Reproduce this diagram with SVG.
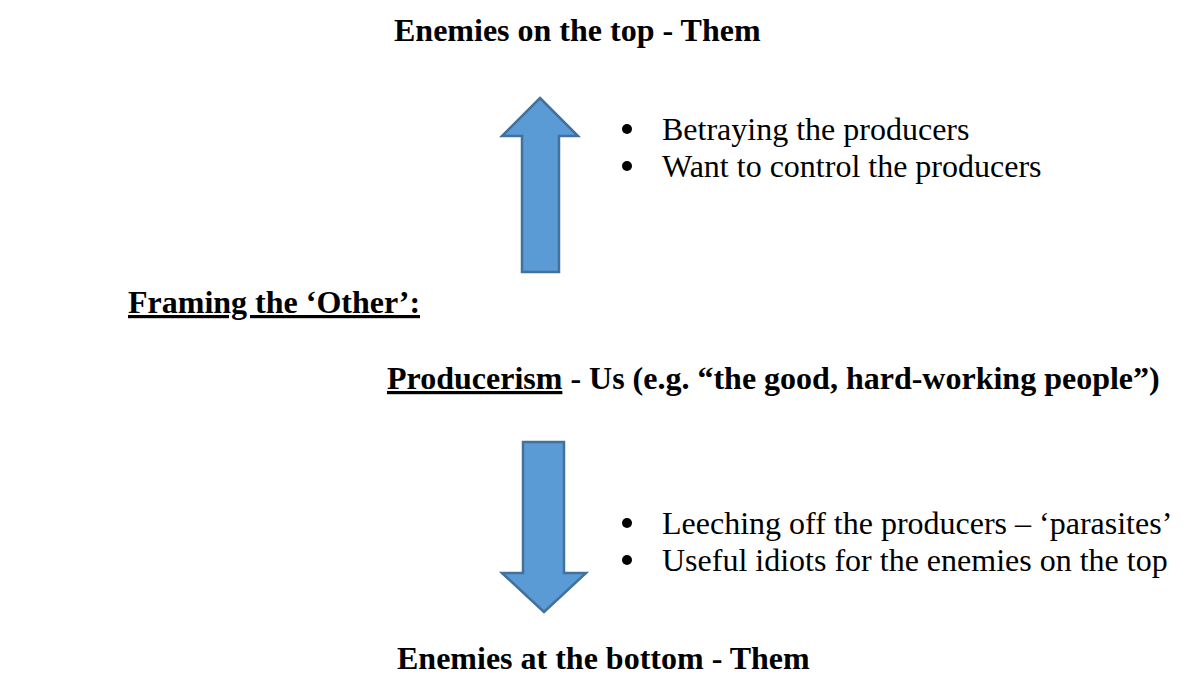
<svg xmlns="http://www.w3.org/2000/svg" width="1189" height="680" viewBox="0 0 1189 680">
<style>
.h{font-family:"Liberation Serif","Times New Roman",serif;font-weight:bold;font-size:32px;fill:#000}
.b{font-family:"Liberation Serif","Times New Roman",serif;font-size:32px;fill:#000}
.arrow{fill:#5B9BD5;stroke:#41719C;stroke-width:2.5;stroke-linejoin:miter}
</style>
<rect width="1189" height="680" fill="#fff"/>
<g id="top-enemies"><text class="h" x="394" y="41">Enemies on the top - Them</text></g>
<g id="top-bullets">
<circle cx="627" cy="129" r="5"/><text class="b" x="662" y="140">Betraying the producers</text>
<circle cx="627" cy="166" r="5"/><text class="b" x="662" y="177">Want to control the producers</text>
</g>
<g id="framing"><text class="h" x="128" y="313" text-decoration="underline">Framing the ‘Other’:</text></g>
<g id="producerism"><text class="h" x="387" y="389"><tspan text-decoration="underline">Producerism</tspan> - Us (e.g. “the good, hard-working people”)</text></g>
<g id="bottom-bullets">
<circle cx="627" cy="523" r="5"/><text class="b" x="662" y="534">Leeching off the producers – ‘parasites’</text>
<circle cx="627" cy="560" r="5"/><text class="b" x="662" y="571">Useful idiots for the enemies on the top</text>
</g>
<g id="bottom-enemies"><text class="h" x="397" y="669">Enemies at the bottom - Them</text></g>
<g id="connectors">
<polygon class="arrow" points="540,98 578,136 559,136 559,272 522,272 522,136 502,136"/>
<polygon class="arrow" points="523,442 564,442 564,573 586,573 544,612 502,573 523,573"/>
</g>
</svg>
